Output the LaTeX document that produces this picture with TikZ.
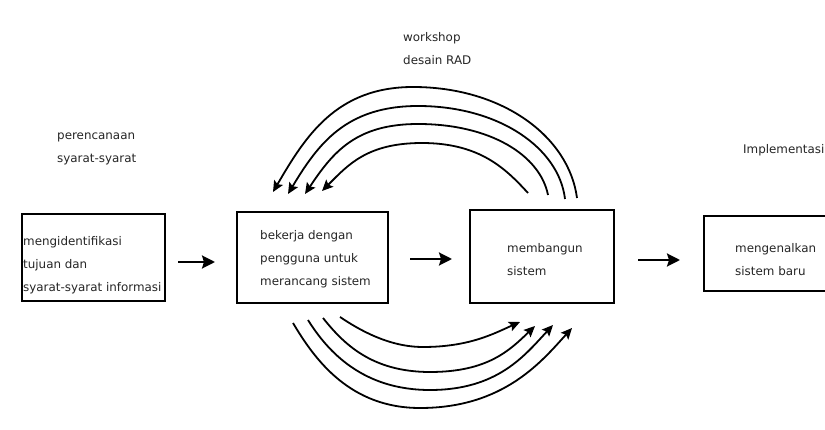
\documentclass[tikz,border=0pt]{standalone}
\usepackage{fontspec}
\setmainfont{DejaVu Sans}
\usetikzlibrary{arrows.meta}
\begin{document}
\begin{tikzpicture}[x=1pt,y=-1pt,
  box/.style={draw, line width=1.7pt, inner sep=0pt, anchor=north west},
  lbl/.style={font=\fontsize{11.9}{23}\selectfont, align=left, anchor=west, inner sep=0pt, text=black!85},
  harrow/.style={line width=2.4pt, -{Stealth[length=13pt,width=13pt,inset=2pt]}},
  arcarrow/.style={line width=1.8pt, -{Stealth[length=11pt,width=10pt,inset=2pt]}}]
\useasboundingbox (0,0) rectangle (825,430);
\fill[white] (0,0) rectangle (825,430);
\clip (0,0) rectangle (825,430);

% boxes
\node[box, minimum width=143pt, minimum height=87pt] (b1) at (21,213) {};
\node[box, minimum width=151pt, minimum height=91pt] (b2) at (236,211) {};
\node[box, minimum width=144pt, minimum height=93pt] (b3) at (469,209) {};
\node[box, minimum width=140pt, minimum height=75pt] (b4) at (703,215) {};

% box texts
\node[lbl] (t1) at (23,265) {mengidentifikasi\\tujuan dan\\syarat-syarat informasi};
\node[lbl] (t2) at (260,259) {bekerja dengan\\pengguna untuk\\merancang sistem};
\node[lbl] (t3) at (507,260) {membangun\\sistem};
\node[lbl] (t4) at (735,259.5) {mengenalkan\\sistem baru};

% phase labels
\node[lbl] (p1) at (57,148.5) {perencanaan\\syarat-syarat};
\node[lbl] (p2) at (403,49) {workshop\\desain RAD};
\node[lbl] (p3) at (743,150) {Implementasi};

% horizontal arrows
\coordinate (h1s) at (178,262); \coordinate (h1e) at (215,262);
\coordinate (h2s) at (410,259); \coordinate (h2e) at (452,259);
\coordinate (h3s) at (638,260); \coordinate (h3e) at (680,260);
\draw[harrow] (h1s) -- (h1e);
\draw[harrow] (h2s) -- (h2e);
\draw[harrow] (h3s) -- (h3e);

% top arcs (from b3 back to b2)
\coordinate (ts1) at (577,198); \coordinate (tp1) at (413,87);  \coordinate (te1) at (273,192);
\coordinate (ts2) at (565,199); \coordinate (tp2) at (418,106); \coordinate (te2) at (288,194);
\coordinate (ts3) at (548,195); \coordinate (tp3) at (418,124); \coordinate (te3) at (305,194);
\coordinate (ts4) at (528,193); \coordinate (tp4) at (422,143); \coordinate (te4) at (322,191);
\draw[arcarrow] (ts1) .. controls (569,137) and (503,87) .. (tp1) .. controls (336,87) and (305,137) .. (te1);
\draw[arcarrow] (ts2) .. controls (559,148) and (499,106) .. (tp2) .. controls (346,106) and (318,144) .. (te2);
\draw[arcarrow] (ts3) .. controls (540,155) and (490,124) .. (tp3) .. controls (356,124) and (333,152) .. (te3);
\draw[arcarrow] (ts4) .. controls (506,169) and (480,143) .. (tp4) .. controls (367,143) and (348,165) .. (te4);

% bottom arcs (from b2 to b3)
\coordinate (bs1) at (293,323); \coordinate (bv1) at (420,408); \coordinate (be1) at (572,328);
\coordinate (bs2) at (308,320); \coordinate (bv2) at (430,390); \coordinate (be2) at (553,325);
\coordinate (bs3) at (323,318); \coordinate (bv3) at (430,372); \coordinate (be3) at (535,326);
\coordinate (bs4) at (340,317); \coordinate (bv4) at (423,347); \coordinate (be4) at (520,322);
\draw[arcarrow] (bs1) .. controls (315,360) and (350,408) .. (bv1) .. controls (504,408) and (542,361) .. (be1);
\draw[arcarrow] (bs2) .. controls (328,352) and (363,390) .. (bv2) .. controls (498,390) and (525,355) .. (be2);
\draw[arcarrow] (bs3) .. controls (343,343) and (371,372) .. (bv3) .. controls (488,372) and (510,350) .. (be3);
\draw[arcarrow] (bs4) .. controls (358,329) and (388,347) .. (bv4) .. controls (470,347) and (495,333) .. (be4);
\end{tikzpicture}
\end{document}
